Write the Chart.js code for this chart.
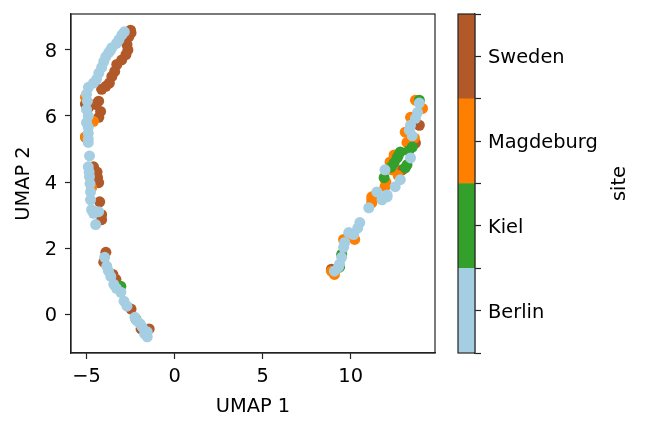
<!DOCTYPE html>
<html>
<head>
<meta charset="utf-8">
<script src="https://cdn.jsdelivr.net/npm/chart.js@4/dist/chart.umd.min.js"></script>
<style>
  html, body { margin: 0; padding: 0; background: #ffffff; }
  #wrap { position: relative; width: 646px; height: 432px; }
  #wrap canvas { position: absolute; left: 0; top: 0; }
</style>
</head>
<body>
<div id="wrap">
  <canvas id="main" width="646" height="432"></canvas>
  <canvas id="cbar" width="646" height="432"></canvas>
</div>
<script>
// ---- data ----
const sites = ["Berlin", "Kiel", "Magdeburg", "Sweden"];
const siteColors = ["#a6cee3", "#33a02c", "#ff7f00", "#b15928"];
const xTicks = [-5, 0, 5, 10];
const yTicks = [0, 2, 4, 6, 8];
const xLabel = "UMAP 1";
const yLabel = "UMAP 2";
const cbarLabel = "site";

const berlin = [
  [-2.99,8.46],[-2.85,8.55],[-3.16,8.31],[-3.3,8.2],[-3.56,8.07],[-3.65,7.98],[-3.74,7.92],[-3.9,7.8],
  [-4.02,7.65],[-4.14,7.47],[-4.3,7.3],[-4.43,7.11],[-4.6,7.0],[-4.89,6.87],[-5.0,6.66],[-4.95,6.45],
  [-5.0,6.2],[-4.9,6.0],[-5.0,5.8],[-4.9,5.66],[-4.9,5.48],[-4.9,5.3],[-4.9,5.2],[-4.83,4.79],
  [-4.9,4.46],[-4.85,4.3],[-4.83,4.16],[-4.8,3.95],[-4.77,3.7],[-4.77,3.46],[-4.71,3.16],[-4.6,3.05],
  [-4.48,2.71],[-4.31,3.1],
  [-3.97,1.72],[-3.85,1.45],[-3.75,1.3],[-3.62,1.14],[-3.45,0.9],[-3.3,0.78],[-3.05,0.66],[-2.87,0.39],
  [-2.7,0.24],[-2.25,-0.1],[-2.13,-0.21],[-1.95,-0.3],[-1.84,-0.39],[-1.55,-0.54],[-1.55,-0.69],[-1.7,-0.6],
  [13.9,6.39],[13.8,6.11],[13.68,5.93],[13.4,5.72],[13.33,5.57],[13.5,5.4],[13.4,4.73],[11.95,4.37],
  [12.82,4.07],[12.53,3.86],[12.07,3.61],[11.49,3.7],[11.78,3.46],[11.03,3.22],[12.07,3.55],[10.52,2.77],
  [10.4,2.6],[9.89,2.47],[10.17,2.41],[9.66,2.17],[9.6,2.02],[9.49,1.72],[9.37,1.51],[9.31,1.42],[9.08,1.3]
];
const kiel = [
  [13.9,6.48],[13.5,5.06],[13.3,4.95],[12.82,4.91],[12.7,4.8],[12.64,4.73],[12.47,4.58],[13.2,4.52],
  [13.1,4.43],[11.9,4.13],[12.3,4.45],[9.49,1.81],[9.37,1.42],[-3.05,0.84],[-2.2,-0.15]
];
const magdeburg = [
  [13.68,6.48],[14.08,6.23],[13.4,5.96],[13.1,5.51],[13.62,5.33],[13.2,5.2],[12.47,4.82],[12.24,4.61],
  [12.36,4.37],[11.95,3.86],[11.2,3.55],[11.2,3.37],[11.2,3.46],[10.23,2.26],[9.6,2.26],[8.91,1.3],
  [9.08,1.2],[12.0,4.0],[12.7,4.2],
  [-5.06,6.57],[-4.6,5.84],[-5.06,5.36],[-4.71,3.83]
];
const sweden = [
  [-2.47,8.52],[-2.5,8.6],[-2.6,8.4],[-2.7,8.16],[-2.65,8.0],[-2.76,7.86],[-3.0,7.7],[-3.28,7.56],
  [-3.4,7.35],[-3.56,7.2],[-3.7,7.0],[-3.9,6.9],[-4.14,6.81],[-4.31,6.45],[-4.5,6.35],[-5.06,6.36],
  [-4.2,6.14],[-4.3,5.96],[-4.9,6.25],
  [-4.37,4.13],[-4.31,3.98],[-4.6,4.46],[-4.25,3.4],[-4.14,3.01],[-4.14,2.86],[-5.06,5.36],[-4.4,4.3],
  [-3.9,1.87],[-4.02,1.57],[-3.33,1.05],[-2.47,0.15],[-1.9,-0.45],[-1.44,-0.45],[-3.5,1.2],
  [13.9,5.72],[13.68,5.18],[12.93,4.37],[8.91,1.36]
];
const seriesBySite = [berlin, kiel, magdeburg, sweden];

// ---- helpers ----
const FONT = "'DejaVu Sans', sans-serif";
const FS = 19.4;
Chart.defaults.font.family = FONT;
Chart.defaults.font.size = FS;
Chart.defaults.color = "#000";
const INK = '#222';
const fmt = v => (v < 0 ? '\u2212' + Math.abs(v) : String(v));
const noPad = s => { s.paddingTop = 0; s.paddingBottom = 0; s.paddingLeft = 0; s.paddingRight = 0; };

const frame = {
  id: 'frame',
  afterDraw(chart) {
    const a = chart.chartArea, c = chart.ctx;
    c.save();
    c.strokeStyle = INK;
    c.lineWidth = 1.2;
    c.strokeRect(a.left, a.top, a.right - a.left, a.bottom - a.top);
    c.restore();
  }
};

// datasets: first dataset is drawn on top
const mainDatasets = [0, 1, 2, 3].map(i => ({
  label: sites[i],
  data: seriesBySite[i].map(p => ({x: p[0], y: p[1]})),
  backgroundColor: siteColors[i],
  borderWidth: 0,
  pointRadius: 5.5,
  pointHoverRadius: 5.5
}));

new Chart(document.getElementById('main'), {
  type: 'scatter',
  data: { datasets: mainDatasets },
  options: {
    responsive: false,
    animation: false,
    events: [],
    layout: { padding: { left: 0, top: 14, right: 211, bottom: 0 } },
    plugins: { legend: { display: false }, tooltip: { enabled: false } },
    scales: {
      x: {
        type: 'linear', min: -5.88, max: 14.79,
        afterBuildTicks: s => { s.ticks = xTicks.map(v => ({value: v})); },
        afterFit: s => { s.height = 79; noPad(s); },
        grid: { drawOnChartArea: false, drawTicks: true, tickLength: 6, color: INK, tickWidth: 1.2 },
        border: { display: true, color: INK, width: 1.2 },
        ticks: { padding: 6, maxRotation: 0, color: '#000', font: { size: FS }, callback: v => fmt(v) },
        title: { display: true, text: xLabel, color: '#000', font: { size: FS }, padding: { top: 0, bottom: 13 } }
      },
      y: {
        type: 'linear', min: -1.18, max: 9.09,
        afterBuildTicks: s => { s.ticks = yTicks.map(v => ({value: v})); },
        afterFit: s => { s.width = 71; noPad(s); },
        grid: { drawOnChartArea: false, drawTicks: true, tickLength: 6, color: INK, tickWidth: 1.2 },
        border: { display: true, color: INK, width: 1.2 },
        ticks: { padding: 8, labelOffset: 2, color: '#000', font: { size: FS }, callback: v => fmt(v) },
        title: { display: true, text: yLabel, color: '#000', font: { size: FS }, padding: { top: 12, bottom: 0 } }
      }
    }
  },
  plugins: [frame]
});

// ---- colorbar ----
const cbarLabelPlugin = {
  id: 'cbarLabel',
  afterDraw(chart) {
    const a = chart.chartArea, c = chart.ctx;
    c.save();
    c.fillStyle = '#000';
    c.font = FS + "px " + FONT;
    c.textAlign = 'center';
    c.textBaseline = 'middle';
    c.translate(620, (a.top + a.bottom) / 2);
    c.rotate(-Math.PI / 2);
    c.fillText(cbarLabel, 0, 0);
    c.restore();
  }
};

const cbarTicks = [0, 0.5, 1, 1.5, 2, 2.5, 3, 3.5, 4];
new Chart(document.getElementById('cbar'), {
  type: 'bar',
  data: {
    labels: [cbarLabel],
    datasets: sites.map((s, i) => ({
      label: s, data: [1], backgroundColor: siteColors[i], borderWidth: 0,
      barPercentage: 1, categoryPercentage: 1
    }))
  },
  options: {
    responsive: false,
    animation: false,
    events: [],
    layout: { padding: { left: 458, top: 14, right: 0, bottom: 79 } },
    plugins: { legend: { display: false }, tooltip: { enabled: false } },
    scales: {
      x: { stacked: true, display: false },
      y: {
        stacked: true, position: 'right', min: 0, max: 4,
        afterBuildTicks: s => { s.ticks = cbarTicks.map(v => ({value: v})); },
        afterFit: s => { s.width = 171; noPad(s); },
        grid: { drawOnChartArea: false, drawTicks: true, tickLength: 6, color: INK, tickWidth: 1.2 },
        border: { display: true, color: INK, width: 1.2 },
        ticks: {
          padding: 7, labelOffset: 2, color: '#000', font: { size: FS }, autoSkip: false,
          callback: (v) => (Math.abs(v - Math.floor(v) - 0.5) < 1e-6) ? sites[Math.floor(v)] : ''
        }
      }
    }
  },
  plugins: [frame, cbarLabelPlugin]
});
</script>
</body>
</html>
